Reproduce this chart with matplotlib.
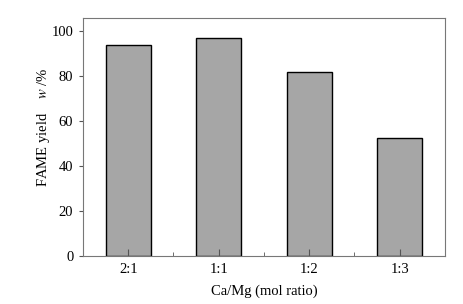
import numpy as np
import matplotlib
matplotlib.use("Agg")
import matplotlib.pyplot as plt

ratios = ["2:1", "1:1", "1:2", "1:3"]
yields = [93.8, 96.7, 81.6, 52.6]

plt.rcParams['font.family'] = 'Liberation Serif'
plt.rcParams['mathtext.fontset'] = 'stix'
plt.rcParams['font.size'] = 10.5

fig = plt.figure(figsize=(4.64, 3.04), dpi=100)
ax = fig.add_axes([83/464, 1-256/304, 362/464, 238/304])

x = np.arange(1, len(ratios)+1)
ax.bar(x, yields, width=0.5, color='#a6a6a6', edgecolor='black', linewidth=1.0)

ax.set_xlim(0.5, 4.5)
ax.set_ylim(0, 105.8)
ax.set_xticks(x)
ax.set_xticklabels(ratios)
ax.set_xticks([1.5, 2.5, 3.5], minor=True)
ax.set_yticks([0, 20, 40, 60, 80, 100])
ax.tick_params(axis='x', which='major', direction='in', length=5, color='#555555', pad=5)
ax.tick_params(axis='x', which='minor', direction='in', length=3, color='#555555')
ax.tick_params(axis='y', direction='out', length=3, color='#555555', pad=4)
for s in ax.spines.values():
    s.set_color('#777777')
    s.set_linewidth(0.8)

ax.set_xlabel('Ca/Mg (mol ratio)', labelpad=6)
ax.set_ylabel('FAME yield    $w$ /%')
ax.yaxis.set_label_coords(-0.086, 0.54)

fig.savefig('out.png', dpi=100)
